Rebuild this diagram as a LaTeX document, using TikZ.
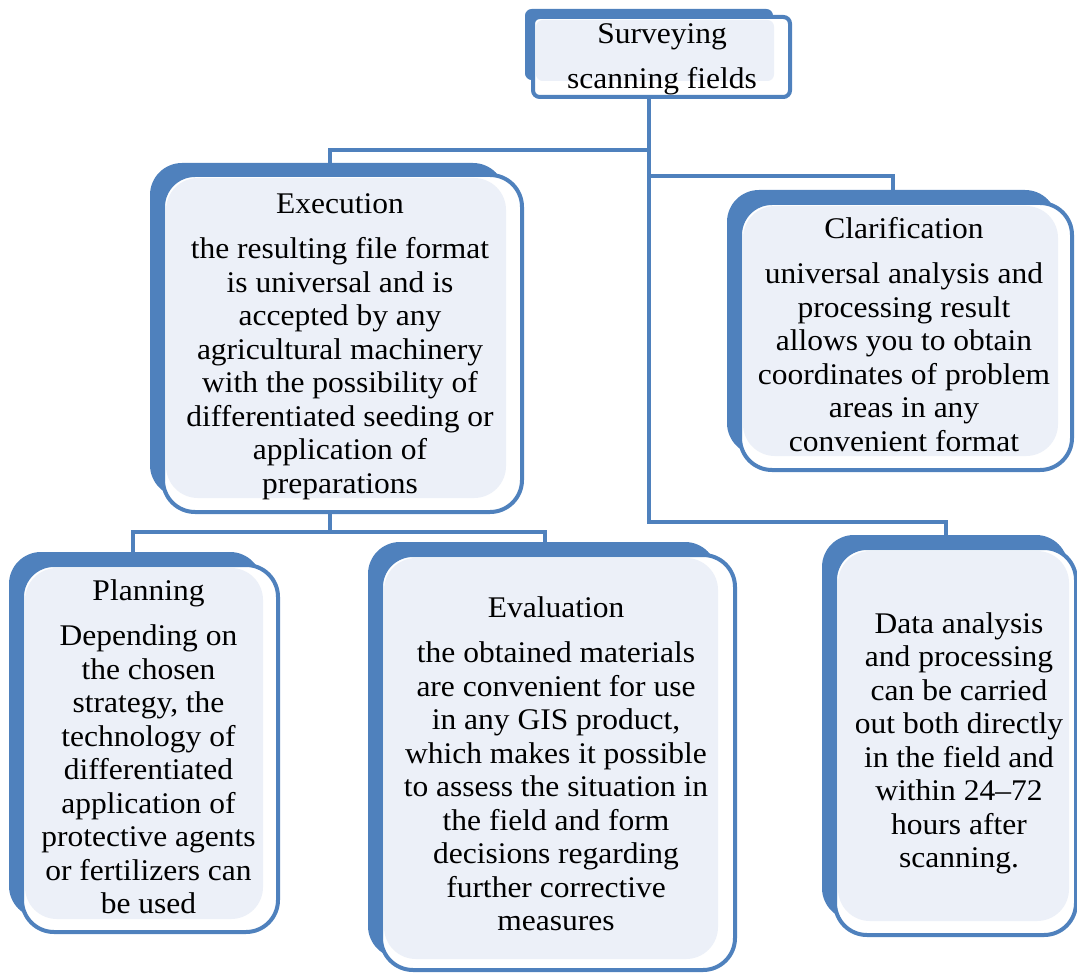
\documentclass[tikz,border=0pt]{standalone}
\usepackage{fontspec}
\setmainfont{Liberation Serif}[FakeStretch=1.05]
\usetikzlibrary{fit,calc}
\definecolor{sablue}{HTML}{4F81BD}
\definecolor{salight}{HTML}{ECF0F8}
\tikzset{
  backbox/.style={fill=sablue, draw=none, inner sep=0pt},
  frontbox/.style={fill=white, draw=sablue, line width=3pt, inner sep=0pt},
  lightbox/.style={fill=salight, draw=none, inner sep=0pt},
  conn/.style={draw=sablue, line width=3.6pt},
  txt/.style={align=center, inner sep=0pt, anchor=north, text=black,
    font=\fontsize{22.5}{25.1}\selectfont}
}
\newcommand\dblbox[9]{%
  \node[backbox, fit={(#2,#3) (#4,#5)}] (#1B) {};
  \node[frontbox, fit={(#6,#7) (#8,#9)}] (#1F) {};
  \node[lightbox, fit={({#6+3},{#7+3}) ({#4+1},{#5+1})}] (#1L) {};}
\begin{document}
\begin{tikzpicture}[x=0.75pt,y=-0.75pt]
\useasboundingbox (0,0) rectangle (1077,973);
% junction coordinates
\coordinate (j1) at (649,150);
\coordinate (j2) at (649,176);
\coordinate (j3) at (649,522);
\coordinate (ex) at (330,0);
\coordinate (cx) at (893,0);
\coordinate (dx) at (946,0);
\coordinate (k1) at (133,532);
\coordinate (k2) at (545,532);
% boxes
\begin{scope}[rounded corners=5pt]
  \dblbox{top}{525}{9}{773}{80}{533}{17}{790}{97}
\end{scope}
\begin{scope}[rounded corners=24pt]
  \dblbox{exe}{150}{163}{505}{497}{163}{175}{522}{512}
  \dblbox{cla}{727}{190}{1057}{455}{740}{203}{1072}{470}
  \dblbox{pla}{9}{552}{262}{918}{22}{565}{278}{932}
  \dblbox{eva}{368}{542}{717}{958}{381}{555}{735}{970}
  \dblbox{dat}{822}{535}{1068}{920}{835}{548}{1076}{935}
\end{scope}
% connectors
\draw[conn] (topF.south -| j1) -- (j3) -| (datB.north -| dx);
\draw[conn] (j1) -| (exeB.north -| ex);
\draw[conn] (j2) -| (claB.north -| cx);
\draw[conn] (exeF.south -| ex) -- (ex |- k1);
\draw[conn] (plaB.north -| k1) -- (k1) -- (k2) -- (evaB.north -| k2);
% texts
\node[txt] (topT) at (662,19.6) {\strut Surveying\\[9pt]scanning fields};
\node[txt] (exeT) at (340,189.6) {\strut Execution\\[9pt]the resulting file format\\is universal and is\\accepted by any\\agricultural machinery\\with the possibility of\\differentiated seeding or\\application of\\preparations};
\node[txt] (claT) at (904,214.6) {\strut Clarification\\[9pt]universal analysis and\\processing result\\allows you to obtain\\coordinates of problem\\areas in any\\convenient format};
\node[txt] (plaT) at (148.5,576.6) {\strut Planning\\[9pt]Depending on\\the chosen\\strategy, the\\technology of\\differentiated\\application of\\protective agents\\or fertilizers can\\be used};
\node[txt] (evaT) at (556,593.6) {\strut Evaluation\\[9pt]the obtained materials\\are convenient for use\\in any GIS product,\\which makes it possible\\to assess the situation in\\the field and form\\decisions regarding\\further corrective\\measures};
\node[txt] (datT) at (959,609.6) {\strut Data analysis\\and processing\\can be carried\\out both directly\\in the field and\\within 24–72\\hours after\\scanning.};
\end{tikzpicture}
\end{document}
